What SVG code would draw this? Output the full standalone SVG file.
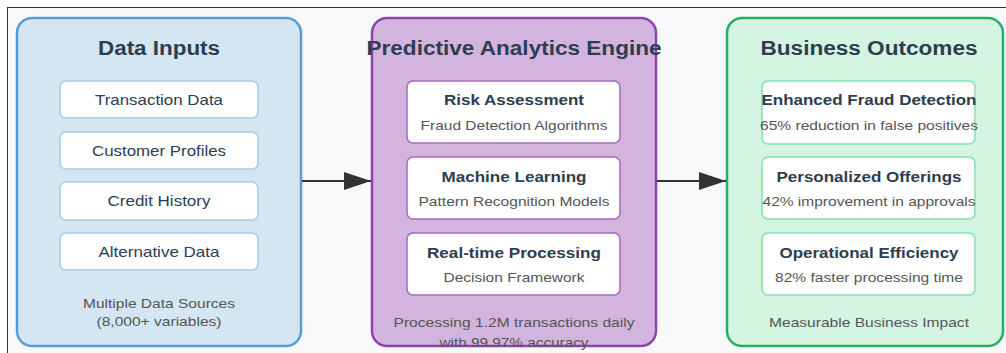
<svg xmlns="http://www.w3.org/2000/svg" width="1006" height="353" viewBox="0 0 1006 353">
<defs>
<style>
text{font-family:"Liberation Sans",Arial,sans-serif;text-anchor:middle;fill:#2c3e50}
.title{font-size:20px;font-weight:bold}
.item{font-size:14.5px}
.head{font-size:15.5px;font-weight:bold}
.sub{font-size:13.5px;fill:#555}
.foot{font-size:13px;fill:#555}
.inner{fill:#fff;stroke-width:1.5}
.conn{stroke:#333;stroke-width:2;fill:none}
</style>
<marker id="arr" markerWidth="27" markerHeight="18" refX="27" refY="9" orient="auto" markerUnits="userSpaceOnUse">
<path d="M0,0 L27,9 L0,18 Z" fill="#333"/>
</marker>
</defs>
<rect x="0" y="0" width="1006" height="353" fill="#fff"/>
<rect x="7.5" y="7.5" width="1010" height="360" fill="#f8f9fa" stroke="#333" stroke-width="1"/>

<g id="data-inputs">
<rect x="17" y="18" width="284" height="328" rx="15" fill="#d4e6f1" stroke="#5b9bd5" stroke-width="2.5"/>
<text class="title" x="159" y="55" textLength="122" lengthAdjust="spacingAndGlyphs">Data Inputs</text>
<rect class="inner" x="60" y="81" width="198" height="37" rx="6" stroke="#a9cce3"/>
<text class="item" x="159" y="105" textLength="128" lengthAdjust="spacingAndGlyphs">Transaction Data</text>
<rect class="inner" x="60" y="132" width="198" height="37" rx="6" stroke="#a9cce3"/>
<text class="item" x="159" y="156" textLength="134" lengthAdjust="spacingAndGlyphs">Customer Profiles</text>
<rect class="inner" x="60" y="182" width="198" height="38" rx="6" stroke="#a9cce3"/>
<text class="item" x="159" y="206" textLength="103" lengthAdjust="spacingAndGlyphs">Credit History</text>
<rect class="inner" x="60" y="233" width="198" height="37" rx="6" stroke="#a9cce3"/>
<text class="item" x="159" y="257" textLength="121" lengthAdjust="spacingAndGlyphs">Alternative Data</text>
<text class="foot" x="159" y="308" textLength="152" lengthAdjust="spacingAndGlyphs">Multiple Data Sources</text>
<text class="foot" x="159" y="326" textLength="125" lengthAdjust="spacingAndGlyphs">(8,000+ variables)</text>
</g>

<g id="engine">
<rect x="372" y="18" width="284" height="328" rx="15" fill="#d2b4de" stroke="#8e44ad" stroke-width="2.5"/>
<text class="title" x="514" y="55" textLength="295" lengthAdjust="spacingAndGlyphs">Predictive Analytics Engine</text>
<rect class="inner" x="407" y="81" width="213" height="62" rx="6" stroke="#a569bd"/>
<text class="head" x="514" y="105" textLength="140" lengthAdjust="spacingAndGlyphs">Risk Assessment</text>
<text class="sub" x="514" y="130" textLength="187" lengthAdjust="spacingAndGlyphs">Fraud Detection Algorithms</text>
<rect class="inner" x="407" y="157" width="213" height="62" rx="6" stroke="#a569bd"/>
<text class="head" x="514" y="182" textLength="145" lengthAdjust="spacingAndGlyphs">Machine Learning</text>
<text class="sub" x="514" y="206" textLength="191" lengthAdjust="spacingAndGlyphs">Pattern Recognition Models</text>
<rect class="inner" x="407" y="233" width="213" height="62" rx="6" stroke="#a569bd"/>
<text class="head" x="514" y="258" textLength="174" lengthAdjust="spacingAndGlyphs">Real-time Processing</text>
<text class="sub" x="514" y="282" textLength="141" lengthAdjust="spacingAndGlyphs">Decision Framework</text>
<text class="foot" x="514" y="327" textLength="241" lengthAdjust="spacingAndGlyphs">Processing 1.2M transactions daily</text>
<text class="foot" x="514" y="347" textLength="149" lengthAdjust="spacingAndGlyphs">with 99.97% accuracy</text>
</g>

<g id="outcomes">
<rect x="727" y="18" width="276" height="328" rx="15" fill="#d5f5e3" stroke="#27ae60" stroke-width="2.5"/>
<text class="title" x="869" y="55" textLength="217" lengthAdjust="spacingAndGlyphs">Business Outcomes</text>
<rect class="inner" x="762" y="81" width="213" height="63" rx="6" stroke="#82e0aa"/>
<text class="head" x="869" y="105" textLength="215" lengthAdjust="spacingAndGlyphs">Enhanced Fraud Detection</text>
<text class="sub" x="869" y="130" textLength="218" lengthAdjust="spacingAndGlyphs">65% reduction in false positives</text>
<rect class="inner" x="762" y="157" width="213" height="62" rx="6" stroke="#82e0aa"/>
<text class="head" x="869" y="182" textLength="185" lengthAdjust="spacingAndGlyphs">Personalized Offerings</text>
<text class="sub" x="869" y="206" textLength="213" lengthAdjust="spacingAndGlyphs">42% improvement in approvals</text>
<rect class="inner" x="762" y="233" width="213" height="62" rx="6" stroke="#82e0aa"/>
<text class="head" x="869" y="258" textLength="179" lengthAdjust="spacingAndGlyphs">Operational Efficiency</text>
<text class="sub" x="869" y="282" textLength="188" lengthAdjust="spacingAndGlyphs">82% faster processing time</text>
<text class="foot" x="869" y="327" textLength="200" lengthAdjust="spacingAndGlyphs">Measurable Business Impact</text>
</g>

<g id="connectors">
<path class="conn" d="M302,181 L371,181" marker-end="url(#arr)"/>
<path class="conn" d="M657,181 L726,181" marker-end="url(#arr)"/>
</g>
</svg>
